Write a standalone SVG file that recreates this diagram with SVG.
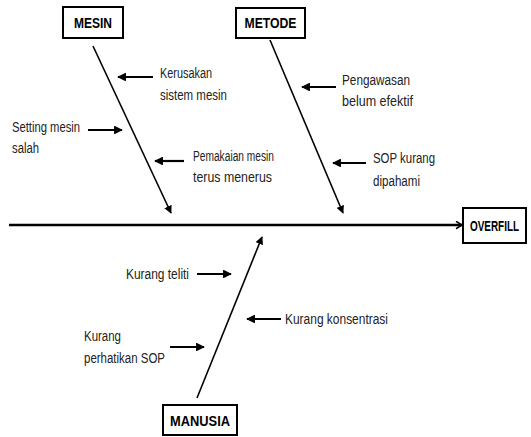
<svg xmlns="http://www.w3.org/2000/svg" width="531" height="437" viewBox="0 0 531 437">
<style>
.box{fill:#fff;stroke:#000;stroke-width:2}
.hd{font-family:"Liberation Sans",Arial,sans-serif;font-weight:bold;font-size:14px;fill:#000}
.t{font-family:"Liberation Sans",Arial,sans-serif;font-size:14px;fill:#222}
.bone{stroke:#000;stroke-width:1.6;fill:none}
.sm{stroke:#000;stroke-width:2.2;fill:none}
.spine{stroke:#000;stroke-width:2.5;fill:none}
</style>
<defs>
<marker id="ah" viewBox="0 0 10 10" refX="9" refY="5" markerWidth="4" markerHeight="4" orient="auto" markerUnits="strokeWidth">
<path d="M0,0 L10,5 L0,10 z" fill="#000"/>
</marker>
<marker id="ah2" viewBox="0 0 10 10" refX="9" refY="5" markerWidth="5" markerHeight="5" orient="auto" markerUnits="strokeWidth">
<path d="M0,0 L10,5 L0,10 z" fill="#000"/>
</marker>
<marker id="chev" viewBox="0 0 10 12" refX="9" refY="6" markerWidth="3" markerHeight="3.6" orient="auto" markerUnits="strokeWidth">
<path d="M1,1 L9,6 L1,11" fill="none" stroke="#000" stroke-width="2"/>
</marker>
</defs>
<rect width="531" height="437" fill="#fff"/>
<g id="connectors">
<line class="spine" x1="9" y1="225" x2="462" y2="225" marker-end="url(#chev)"/>
<line class="bone" x1="93" y1="46" x2="171" y2="213" marker-end="url(#ah2)"/>
<line class="bone" x1="270" y1="40" x2="343" y2="213" marker-end="url(#ah2)"/>
<line class="bone" x1="197" y1="398" x2="262" y2="237" marker-end="url(#ah2)"/>
<line class="sm" x1="153" y1="77" x2="118" y2="77" marker-end="url(#ah)"/>
<line class="sm" x1="88" y1="130" x2="122" y2="130" marker-end="url(#ah)"/>
<line class="sm" x1="184" y1="161" x2="155" y2="161" marker-end="url(#ah)"/>
<line class="sm" x1="336" y1="87" x2="302" y2="87" marker-end="url(#ah)"/>
<line class="sm" x1="366" y1="163" x2="333" y2="163" marker-end="url(#ah)"/>
<line class="sm" x1="197" y1="274" x2="231" y2="274" marker-end="url(#ah)"/>
<line class="sm" x1="281" y1="319" x2="247" y2="319" marker-end="url(#ah)"/>
<line class="sm" x1="170" y1="347" x2="204" y2="347" marker-end="url(#ah)"/>
</g>
<g id="mesin">
<rect class="box" x="63" y="7" width="60" height="31"/>
<text class="hd" x="93" y="28" text-anchor="middle" textLength="38" lengthAdjust="spacingAndGlyphs">MESIN</text>
</g>
<g id="metode">
<rect class="box" x="236" y="8" width="69" height="30"/>
<text class="hd" x="270.5" y="28" text-anchor="middle" textLength="52" lengthAdjust="spacingAndGlyphs">METODE</text>
</g>
<g id="overfill">
<rect class="box" x="463" y="208" width="63" height="35"/>
<text class="hd" transform="translate(494.5,231) scale(0.71,1)" x="0" y="0" text-anchor="middle">OVERFILL</text>
</g>
<g id="manusia">
<rect class="box" x="163" y="405" width="74" height="30"/>
<text class="hd" x="200" y="426" text-anchor="middle" textLength="60" lengthAdjust="spacingAndGlyphs">MANUSIA</text>
</g>
<g id="kerusakan">
<text class="t" x="160" y="78" textLength="52" lengthAdjust="spacingAndGlyphs">Kerusakan</text>
<text class="t" x="160" y="100" textLength="67" lengthAdjust="spacingAndGlyphs">sistem mesin</text>
</g>
<g id="setting">
<text class="t" x="12" y="132" textLength="68" lengthAdjust="spacingAndGlyphs">Setting mesin</text>
<text class="t" x="12" y="153" textLength="27" lengthAdjust="spacingAndGlyphs">salah</text>
</g>
<g id="pemakaian">
<text class="t" x="193" y="161" textLength="81" lengthAdjust="spacingAndGlyphs">Pemakaian mesin</text>
<text class="t" x="193" y="182" textLength="79" lengthAdjust="spacingAndGlyphs">terus menerus</text>
</g>
<g id="pengawasan">
<text class="t" x="342" y="85" textLength="68" lengthAdjust="spacingAndGlyphs">Pengawasan</text>
<text class="t" x="342" y="106" textLength="71" lengthAdjust="spacingAndGlyphs">belum efektif</text>
</g>
<g id="sop">
<text class="t" x="373" y="163" textLength="62" lengthAdjust="spacingAndGlyphs">SOP kurang</text>
<text class="t" x="373" y="186" textLength="47" lengthAdjust="spacingAndGlyphs">dipahami</text>
</g>
<g id="teliti">
<text class="t" x="126" y="279" textLength="63" lengthAdjust="spacingAndGlyphs">Kurang teliti</text>
</g>
<g id="konsentrasi">
<text class="t" x="285" y="324" textLength="103" lengthAdjust="spacingAndGlyphs">Kurang konsentrasi</text>
</g>
<g id="perhatikan">
<text class="t" x="84" y="341" textLength="37" lengthAdjust="spacingAndGlyphs">Kurang</text>
<text class="t" x="84" y="363" textLength="81" lengthAdjust="spacingAndGlyphs">perhatikan SOP</text>
</g>
</svg>
